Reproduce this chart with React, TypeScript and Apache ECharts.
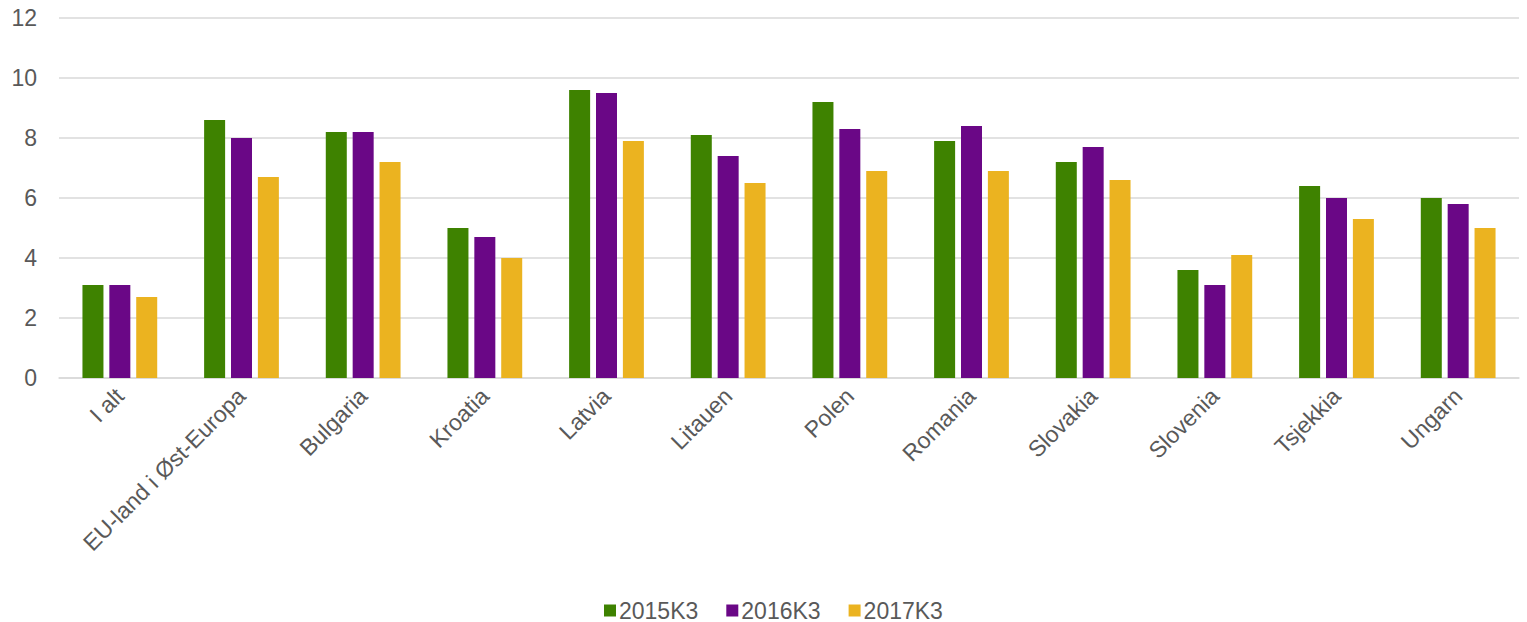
import React, { useEffect, useRef } from "react";
import * as echarts from "echarts";

const categories = [
  "I alt",
  "EU-land i Øst-Europa",
  "Bulgaria",
  "Kroatia",
  "Latvia",
  "Litauen",
  "Polen",
  "Romania",
  "Slovakia",
  "Slovenia",
  "Tsjekkia",
  "Ungarn",
];
const seriesNames = ["2015K3", "2016K3", "2017K3"];
const values2015 = [3.1, 8.6, 8.2, 5.0, 9.6, 8.1, 9.2, 7.9, 7.2, 3.6, 6.4, 6.0];
const values2016 = [3.1, 8.0, 8.2, 4.7, 9.5, 7.4, 8.3, 8.4, 7.7, 3.1, 6.0, 5.8];
const values2017 = [2.7, 6.7, 7.2, 4.0, 7.9, 6.5, 6.9, 6.9, 6.6, 4.1, 5.3, 5.0];
const colors = ["#3E8200", "#6A0786", "#EBB320"];

export default function App() {
  const ref = useRef<HTMLDivElement>(null);
  useEffect(() => {
    document.body.style.margin = "0";
    if (!ref.current) return;
    const chart = echarts.init(ref.current, undefined, { renderer: "svg" });
    const font = "'Liberation Sans', Arial, sans-serif";
    const data = [values2015, values2016, values2017];
    chart.setOption({
      animation: false,
      textStyle: { fontFamily: font },
      grid: { left: 59, right: 8, top: 18, bottom: 244, containLabel: false },
      legend: {
        top: 594,
        left: 599,
        itemWidth: 12,
        itemHeight: 12,
        itemGap: 28,
        icon: "rect",
        textStyle: { color: "#595959", fontSize: 23, fontFamily: font, padding: [0, 0, 0, -2] },
        data: seriesNames,
      },
      xAxis: {
        type: "category",
        data: categories,
        axisLine: { lineStyle: { color: "#d9d9d9", width: 1.5 } },
        axisTick: { show: false },
        axisLabel: {
          rotate: 45,
          interval: 0,
          color: "#595959",
          fontSize: 23,
          fontFamily: font,
          margin: 14,
        },
      },
      yAxis: {
        type: "value",
        min: 0,
        max: 12,
        interval: 2,
        axisLine: { show: false },
        axisTick: { show: false },
        splitLine: { lineStyle: { color: "#d9d9d9", width: 1.5 } },
        axisLabel: { color: "#595959", fontSize: 23, fontFamily: font, margin: 22 },
      },
      series: seriesNames.map((name, i) => ({
        name,
        type: "bar",
        data: data[i],
        barWidth: 21,
        barGap: "28%",
        itemStyle: { color: colors[i] },
      })),
    });
    return () => chart.dispose();
  }, []);
  return <div ref={ref} style={{ width: 1527, height: 622 }} />;
}
